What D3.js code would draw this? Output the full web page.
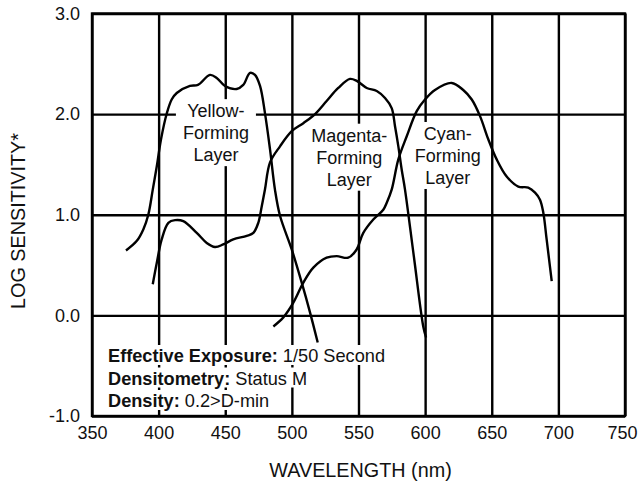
<!DOCTYPE html>
<html>
<head>
<meta charset="utf-8">
<script src="https://cdn.jsdelivr.net/npm/d3@7"></script>
<style>
  body { margin: 0; background: #fff; }
  svg { font-family: "Liberation Sans", Arial, sans-serif; }
</style>
</head>
<body>
<div id="chart"></div>
<script>
// wavelength (nm) / log sensitivity
var yellowNm  = [375.5, 383.5, 388.5, 392.3, 395.6, 398.6, 401.8, 406.1, 409.8, 413.6, 423.5, 429.5, 438.5, 443.6, 449.8, 458.6, 463.5, 468.6, 472.3, 476.1, 479.8, 483.6, 487.3, 491.1, 499.9, 507.4, 513.6, 519.4];
var yellowVal = [0.645, 0.738, 0.854, 1.003, 1.25, 1.48, 1.75, 2.006, 2.145, 2.21, 2.28, 2.29, 2.39, 2.36, 2.28, 2.25, 2.29, 2.41, 2.39, 2.28, 2.01, 1.65, 1.25, 0.99, 0.655, 0.325, 0.03, -0.27];

var magentaNm  = [395.6, 398.6, 402.3, 407.3, 412.3, 418.5, 428.6, 436.1, 442.3, 448.5, 456.0, 466.1, 471.1, 474.8, 477.4, 479.8, 483.6, 491.1, 499.9, 508.6, 517.4, 526.1, 534.8, 543.6, 548.7, 556.2, 563.7, 569.9, 574.9, 577.4, 579.9, 582.4, 584.9, 591.6, 598.6, 600.7];
var magentaVal = [0.31, 0.52, 0.755, 0.92, 0.946, 0.936, 0.82, 0.72, 0.68, 0.705, 0.755, 0.79, 0.82, 0.92, 1.085, 1.25, 1.52, 1.68, 1.83, 1.91, 2.0, 2.13, 2.26, 2.35, 2.33, 2.26, 2.23, 2.16, 2.06, 1.88, 1.68, 1.45, 1.25, 0.58, -0.11, -0.22];

var cyanNm  = [486.1, 493.6, 501.1, 508.6, 516.1, 526.1, 533.6, 542.3, 548.6, 553.6, 561.1, 568.6, 571.2, 574.9, 579.9, 586.2, 593.7, 599.9, 607.4, 619.9, 628.6, 635.0, 641.2, 647.4, 653.7, 661.2, 669.9, 677.4, 682.5, 686.2, 688.7, 691.2, 695.0];
var cyanVal = [-0.11, -0.02, 0.126, 0.325, 0.474, 0.573, 0.589, 0.573, 0.655, 0.82, 0.953, 1.05, 1.12, 1.25, 1.55, 1.78, 2.03, 2.145, 2.24, 2.31, 2.24, 2.145, 1.98, 1.75, 1.55, 1.38, 1.28, 1.27, 1.22, 1.15, 1.02, 0.755, 0.34];

var xTicks = [350, 400, 450, 500, 550, 600, 650, 700, 750];
var yTicks = [-1, 0, 1, 2, 3];

var layerLabels = [
  {lines: ["Yellow-", "Forming", "Layer"], nm: 443, val: 1.97},
  {lines: ["Magenta-", "Forming", "Layer"], nm: 543, val: 1.726},
  {lines: ["Cyan-", "Forming", "Layer"], nm: 617, val: 1.743}
];

var notes = [
  ["Effective Exposure:", " 1/50 Second"],
  ["Densitometry:", " Status M"],
  ["Density:", " 0.2>D-min"]
];

var W = 639, H = 484;
var margin = {top: 13.5, right: 14, bottom: 68, left: 92};
var width = W - margin.left - margin.right,
    height = H - margin.top - margin.bottom;

var svg = d3.select("#chart").append("svg")
    .attr("width", W)
    .attr("height", H);
var g = svg.append("g")
    .attr("transform", "translate(" + margin.left + "," + margin.top + ")");

var x = d3.scaleLinear().domain([350, 750]).range([0, width]);
var y = d3.scaleLinear().domain([-1, 3]).range([height, 0]);

var lw = 2.4;

// grid
g.append("g")
  .attr("transform", "translate(0," + height + ")")
  .call(d3.axisBottom(x).tickValues(xTicks).tickSize(-height).tickFormat(""))
  .call(function(a) { a.select(".domain").remove(); a.selectAll("line").attr("stroke", "#000").attr("stroke-width", lw); });
g.append("g")
  .call(d3.axisLeft(y).tickValues(yTicks).tickSize(-width).tickFormat(""))
  .call(function(a) { a.select(".domain").remove(); a.selectAll("line").attr("stroke", "#000").attr("stroke-width", lw); });
g.append("rect")
  .attr("width", width).attr("height", height)
  .attr("fill", "none").attr("stroke", "#000").attr("stroke-width", lw);

// tick labels
var xl = g.append("g")
  .attr("transform", "translate(0," + height + ")")
  .call(d3.axisBottom(x).tickValues(xTicks).tickSize(0).tickPadding(10))
  .call(function(a) { a.select(".domain").remove(); });
xl.selectAll("text").attr("font-size", 18).attr("font-family", "Liberation Sans, Arial, sans-serif").attr("fill", "#111");
// last label would run off the page
xl.selectAll("text").filter(function(d) { return d === 750; }).attr("text-anchor", "end").attr("x", 12);

g.append("g")
  .call(d3.axisLeft(y).tickValues(yTicks).tickSize(0).tickPadding(12)
    .tickFormat(function(d) { return d.toFixed(1); }))
  .call(function(a) { a.select(".domain").remove(); })
  .selectAll("text").attr("font-size", 18).attr("font-family", "Liberation Sans, Arial, sans-serif").attr("fill", "#111");

// axis titles
svg.append("text")
  .attr("x", margin.left + width / 2 + 2).attr("y", 477)
  .attr("text-anchor", "middle").attr("font-size", 19.8).attr("fill", "#111")
  .text("WAVELENGTH (nm)");
svg.append("text")
  .attr("transform", "translate(25,221) rotate(-90)")
  .attr("text-anchor", "middle").attr("font-size", 19.8).attr("fill", "#111")
  .text("LOG SENSITIVITY*");

// layer labels: white boxes under the curves, text on top
var boxG = g.append("g");
var curveG = g.append("g");
var labG = g.append("g");
layerLabels.forEach(function(l) {
  var t = labG.append("text")
    .attr("text-anchor", "middle").attr("font-size", 18).attr("fill", "#111");
  l.lines.forEach(function(s, i) {
    t.append("tspan").attr("x", x(l.nm)).attr("y", y(l.val) + i * 22).text(s);
  });
  var b = t.node().getBBox();
  boxG.append("rect").attr("fill", "#fff")
    .attr("x", b.x - 7).attr("y", b.y - 2).attr("width", b.width + 14).attr("height", b.height + 3);
});

// curves
var line = d3.line()
  .x(function(d) { return x(d[0]); })
  .y(function(d) { return y(d[1]); })
  .curve(d3.curveCatmullRom.alpha(0.5));
[[yellowNm, yellowVal], [magentaNm, magentaVal], [cyanNm, cyanVal]].forEach(function(s) {
  curveG.append("path")
    .datum(d3.zip(s[0], s[1]))
    .attr("d", line)
    .attr("fill", "none").attr("stroke", "#000").attr("stroke-width", lw)
    .attr("stroke-linejoin", "round").attr("stroke-linecap", "butt");
});

// notes block
var noteG = g.append("g");
notes.forEach(function(n, i) {
  var grp = noteG.append("g");
  var bg = grp.append("rect").attr("fill", "#fff");
  var t = grp.append("text")
    .attr("x", 108 - margin.left).attr("y", 362 - margin.top + i * 22.5)
    .attr("font-size", 18.2).attr("fill", "#111");
  t.append("tspan").attr("font-weight", "bold").text(n[0]);
  t.append("tspan").text(n[1]);
  var b = t.node().getBBox();
  bg.attr("x", b.x - 3).attr("y", b.y - 1).attr("width", b.width + 4).attr("height", b.height);
});
</script>
</body>
</html>
